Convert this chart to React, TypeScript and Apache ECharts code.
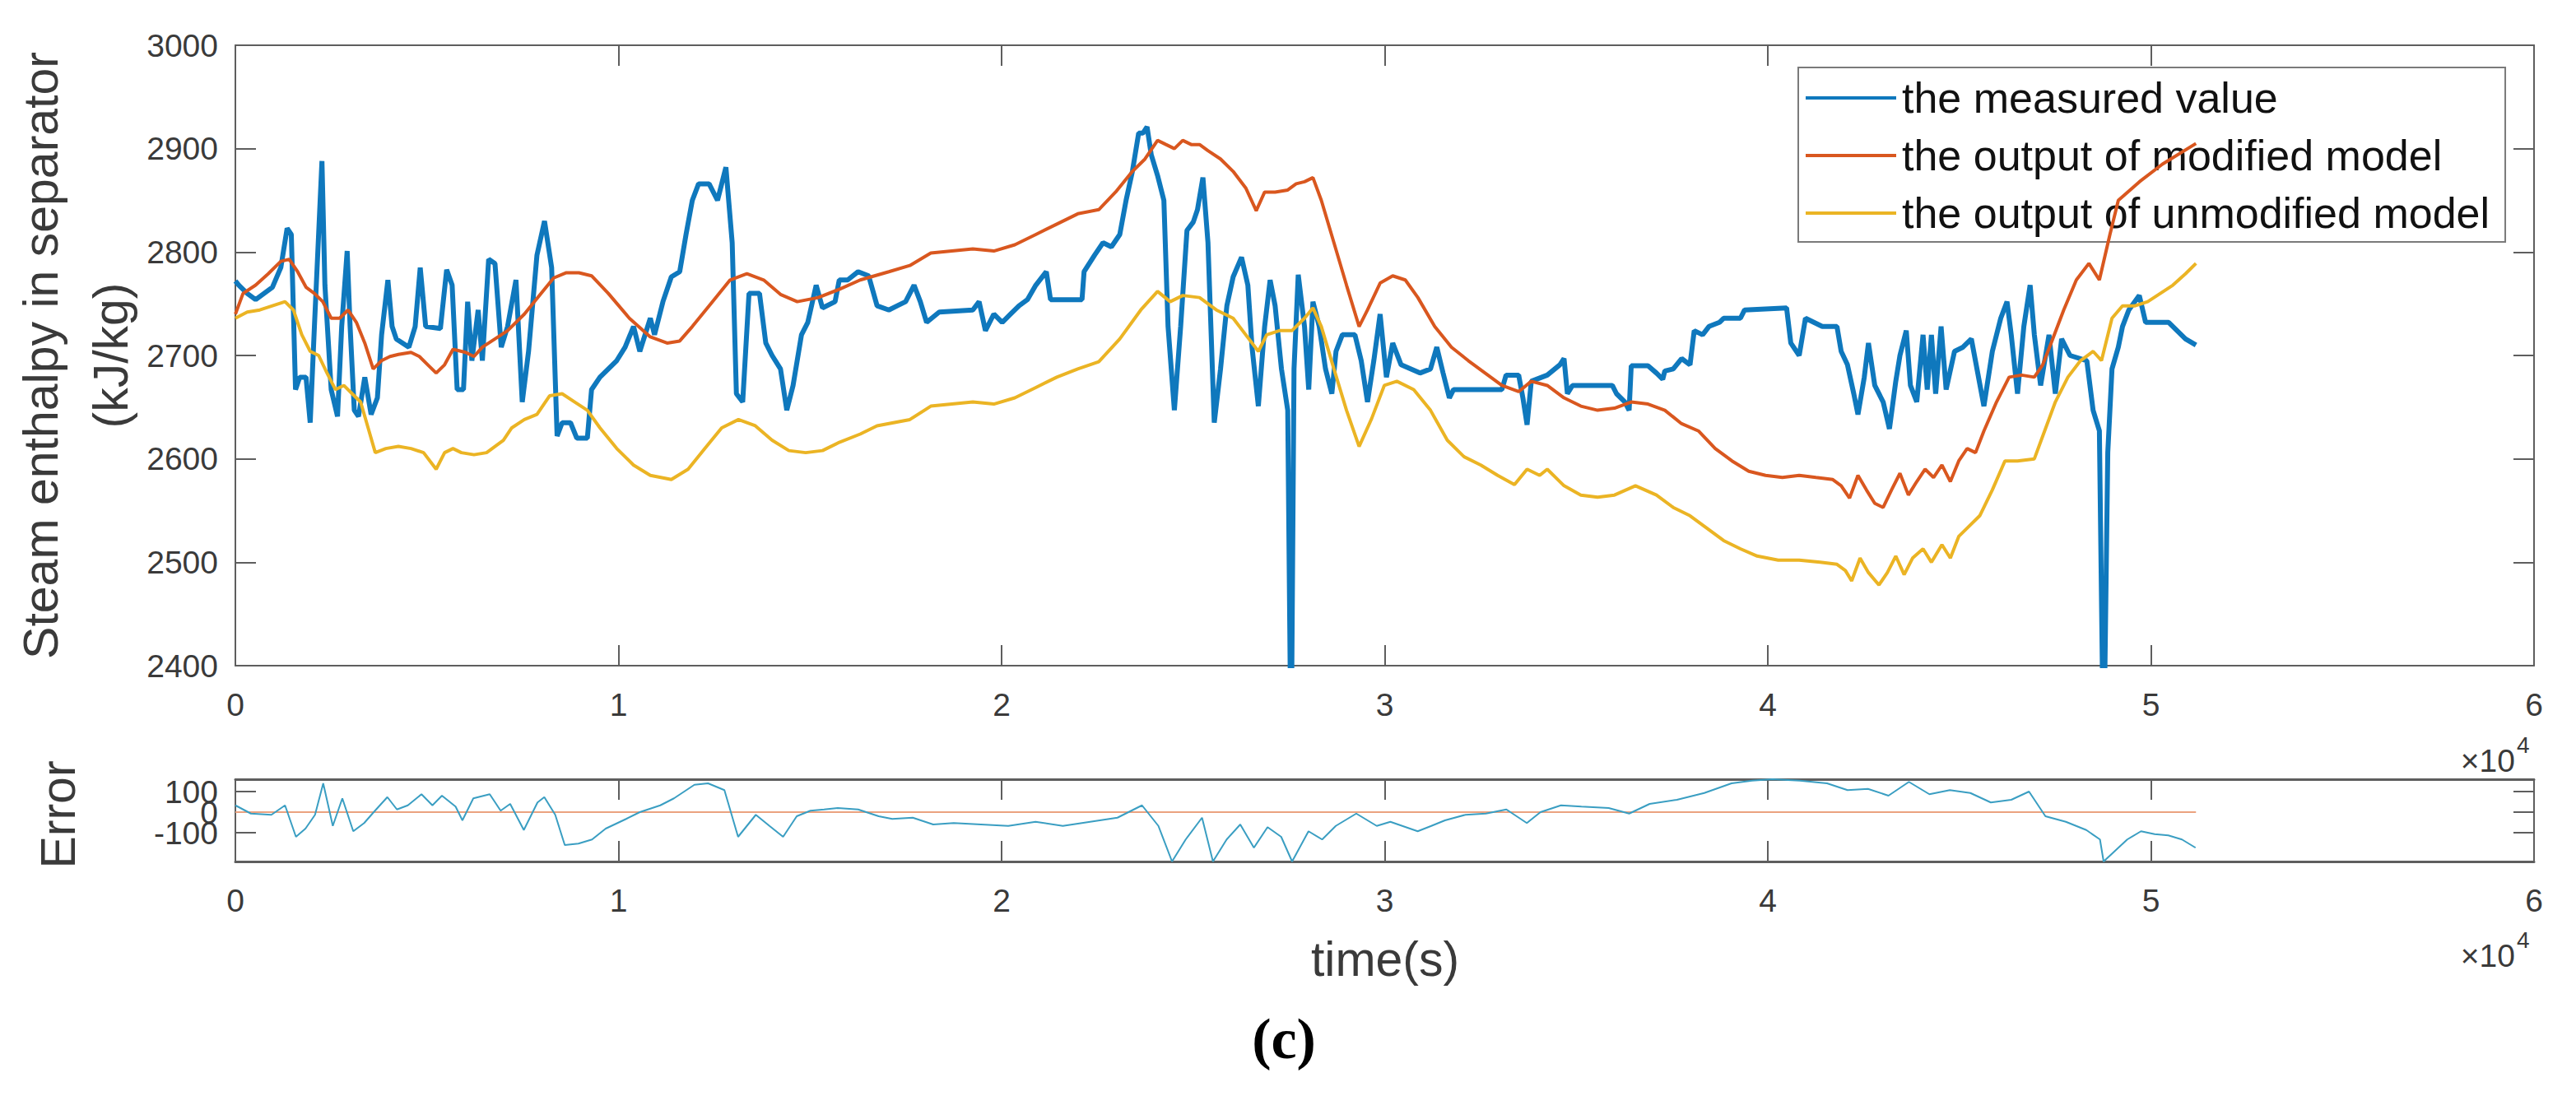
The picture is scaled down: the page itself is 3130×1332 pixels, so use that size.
import React, { useEffect, useRef } from "react";
import * as echarts from "echarts";

// ---------- data (time in s, enthalpy in kJ/kg) ----------
const xTickValues = [0, 10000, 20000, 30000, 40000, 50000, 60000];
const errTickValues = [-100, 0, 100];
const errOuterLabels = [-100, 100];
const errMiddleLabel = [0];

const measuredT = [
  0, 90, 309, 529, 748, 967, 1186, 1351, 1460, 1570, 1679, 1844, 1953, 2063, 2260, 2337, 2501, 2666, 2775, 2918,
  2995, 3104, 3214, 3378, 3543, 3707, 3817, 3981, 4091, 4200, 4365, 4529, 4693, 4825, 4967, 5351, 5515, 5658, 5789, 5954,
  6063, 6173, 6337, 6447, 6611, 6776, 6940, 7105, 7324, 7488, 7653, 7872, 8069, 8255, 8398, 8529, 8748, 8913, 9187, 9297,
  9516, 9735, 9954, 10173, 10393, 10557, 10831, 10941, 11160, 11379, 11598, 11763, 11927, 12091, 12365, 12585, 12804, 12968, 13078, 13242,
  13407, 13681, 13845, 14009, 14229, 14393, 14557, 14777, 14941, 15160, 15325, 15653, 15763, 15982, 16256, 16530, 16750,
  17057, 17276, 17495, 17715, 17879, 18043, 18372, 19249, 19413, 19578, 19797, 20016, 20235, 20455, 20674, 20893, 21167, 21277, 22099,
  22153, 22427, 22647, 22866, 23085, 23249, 23414, 23578, 23688, 23797, 23907, 24071, 24236, 24345, 24510, 24674, 24839, 25003, 25113, 25255,
  25387, 25551, 25715, 25880, 26044, 26263, 26428, 26537, 26702, 26866, 27009, 27140, 27305, 27469, 27557, 27633, 27743, 27907, 28017, 28127,
  28291, 28455, 28620, 28729, 28894, 29223, 29387, 29551, 29716, 29880, 30045, 30209, 30428, 30921, 31195, 31360, 31524, 31688, 31798, 33059,
  33168, 33497, 33607, 33716, 33826, 34243,
  34572, 34681, 34769, 34901, 35942, 36051, 36271, 36380, 36435, 36873, 37093, 37257, 37312, 37531, 37750, 37969, 38079, 38298, 38463, 38737,
  38846, 39285, 39394, 40490, 40600, 40819, 40983, 41422, 41805, 41915, 42079, 42244, 42353, 42518, 42627, 42792, 43011, 43175, 43340, 43449,
  43614, 43723, 43888, 44052, 44162, 44271, 44381, 44523, 44655, 44874, 45093, 45313, 45641, 45861, 46080, 46244, 46354, 46518, 46683, 46847,
  46957, 47121, 47340, 47505, 47669, 47888, 48327, 48491, 48655, 48765, 48874, 48984, 49149, 49258, 49423, 49697, 49861, 50464, 50683, 50902,
  51176,
];
const measuredV = [
  2772, 2768, 2760, 2754, 2760, 2766, 2785, 2823, 2817, 2667, 2679, 2679, 2635, 2728, 2888, 2768, 2667, 2641, 2728, 2801,
  2728, 2647, 2641, 2679, 2643, 2659, 2720, 2773, 2728, 2716, 2712, 2708, 2728, 2785, 2728, 2726, 2783, 2768, 2667, 2667,
  2752, 2695, 2744, 2695, 2793, 2789, 2708, 2728, 2773, 2655, 2704, 2797, 2830, 2785, 2622, 2635, 2635, 2620, 2620, 2667,
  2679, 2687, 2695, 2708, 2728, 2704, 2736, 2720, 2752, 2776, 2781, 2817, 2850, 2866, 2866, 2850, 2882, 2809, 2663, 2655,
  2760, 2760, 2712, 2700, 2687, 2647, 2671, 2720, 2732, 2768, 2746, 2752, 2773, 2773, 2781, 2777, 2748,
  2744, 2748, 2752, 2768, 2752, 2732, 2742, 2744, 2752, 2724, 2740, 2732, 2740, 2748, 2754, 2768, 2781, 2754, 2754,
  2781, 2797, 2809, 2805, 2817, 2850, 2878, 2915, 2915, 2921, 2894, 2874, 2850, 2728, 2647, 2728, 2821, 2829, 2841, 2872,
  2809, 2635, 2687, 2748, 2776, 2795, 2768, 2708, 2651, 2728, 2773, 2748, 2687, 2647, 2300, 2687, 2778, 2728, 2667, 2752,
  2728, 2687, 2663, 2704, 2720, 2720, 2695, 2655, 2695, 2740, 2679, 2712, 2691, 2683, 2687, 2708, 2683, 2659, 2667, 2667,
  2681, 2681, 2659, 2633, 2675, 2681,
  2691, 2697, 2663, 2671, 2671, 2663, 2655, 2647, 2690, 2690, 2683, 2677, 2685, 2687, 2697, 2691, 2724, 2720, 2728, 2732,
  2736, 2736, 2744, 2746, 2712, 2700, 2736, 2728, 2728, 2704, 2691, 2663, 2643, 2679, 2712, 2671, 2655, 2629, 2675, 2700,
  2724, 2671, 2655, 2720, 2667, 2720, 2663, 2728, 2667, 2704, 2708, 2716, 2651, 2704, 2736, 2752, 2720, 2663, 2728, 2768,
  2720, 2671, 2720, 2663, 2716, 2700, 2695, 2647, 2627, 2300, 2606, 2687, 2708, 2728, 2744, 2758, 2732, 2732, 2724, 2716,
  2710,
];

const modifiedT = [
  0, 200, 529, 857, 1186, 1405, 1625, 1844, 2063, 2282, 2501, 2721, 2940, 3159, 3378, 3597, 3817, 4036, 4255, 4584,
  4803, 5022, 5241, 5461, 5680, 6009, 6228, 6447, 6776, 7105, 7543, 7981, 8310, 8639, 8968, 9297, 9735, 10283, 10831, 11269,
  11598, 11927, 12365, 12913, 13352, 13790, 14229, 14667, 15215, 15763, 16311,
  17057, 17605, 18153, 18701, 19249, 19797, 20345, 20893, 21441, 21989, 22537, 22975, 23414, 23743, 24071, 24290, 24510, 24729, 24948, 25167,
  25387, 25715, 26044, 26373, 26647, 26866, 27140, 27469, 27688, 27907, 28127, 28346, 28675, 29003, 29332, 29551, 29880, 30209, 30538, 30866,
  31305, 31743, 32181, 32620, 33059, 33497, 33826,
  34243, 34681, 35120, 35558, 35997, 36435, 36873, 37312, 37750, 38189, 38627, 39065, 39504, 39942, 40381, 40819, 41257, 41696, 41915, 42134,
  42353, 42573, 42792, 43011, 43230, 43449, 43669, 43888, 44107, 44326, 44545, 44765, 44984, 45203, 45422, 45641, 45970, 46299, 46627, 46956,
  47176, 47395, 47724, 48053, 48381, 48655, 48930, 49149, 49700, 50300, 51176,
];
const modifiedV = [
  2740, 2760, 2768, 2779, 2791, 2793, 2781, 2766, 2760, 2752, 2736, 2736, 2744, 2732, 2712, 2687, 2695, 2699, 2701, 2703,
  2699, 2691, 2683, 2691, 2706, 2703, 2699, 2708, 2716, 2724, 2740, 2760, 2775, 2780, 2780, 2777, 2760, 2736, 2718, 2712,
  2714, 2728, 2748, 2773, 2779, 2773, 2759, 2752, 2756, 2764, 2773,
  2781, 2787, 2799, 2801, 2803, 2801, 2807, 2817, 2827, 2837, 2841, 2858, 2878, 2890, 2908, 2904, 2900, 2908, 2904, 2904,
  2898, 2890, 2878, 2862, 2840, 2858, 2858, 2860, 2866, 2868, 2872, 2850, 2809, 2768, 2728, 2744, 2770, 2777, 2773, 2756,
  2728, 2708, 2695, 2683, 2671, 2665, 2675,
  2671, 2659, 2651, 2647, 2649, 2655, 2653, 2647, 2634, 2627, 2610, 2598, 2588, 2584, 2582, 2584, 2582, 2580, 2574, 2562,
  2584, 2570, 2557, 2553, 2570, 2586, 2565, 2578, 2590, 2582, 2594, 2578, 2598, 2610, 2606, 2627, 2655, 2679, 2681, 2679,
  2691, 2712, 2744, 2773, 2789, 2773, 2817, 2850, 2868, 2885, 2905,
];

const unmodifiedT = [
  0, 309, 638, 967, 1296, 1515, 1734, 1953, 2173, 2392, 2611, 2830, 3049, 3269, 3488, 3652, 3927, 4255, 4584, 4913,
  5241, 5461, 5680, 5899, 6228, 6557, 6776, 6995, 7214, 7543, 7872, 8201, 8529, 8858, 9187, 9516, 9954, 10393, 10831, 11379,
  11817, 12255, 12694, 13132, 13571, 14009, 14447, 14886, 15325, 15763, 16311, 16749,
  17605, 18153, 18701, 19249, 19797, 20345, 20893, 21441, 21989, 22537, 23085, 23633, 24071, 24400, 24729, 25167, 25606, 26044, 26373,
  26702, 26921, 27250, 27578, 27907, 28127, 28346, 28675, 29003, 29332, 29660, 29989, 30318, 30757, 31195, 31634, 32072, 32510, 32949, 33387,
  33716, 34045,
  34243, 34681, 35120, 35558, 35997, 36545, 37093, 37531, 37969, 38408, 38846, 39285, 39723, 40271, 40819, 41367, 41805, 42025, 42189, 42408,
  42627, 42901, 43121, 43340, 43559, 43778, 44052, 44271, 44545, 44765, 44984, 45203, 45532, 45861, 46189, 46518, 46957, 47176, 47505, 47833,
  48162, 48491, 48710, 48984, 49258, 49587, 49916, 50245, 50573, 50902, 51176,
];
const unmodifiedV = [
  2736, 2742, 2744, 2748, 2752, 2744, 2720, 2704, 2700, 2683, 2667, 2671, 2663, 2655, 2627, 2606, 2610, 2612, 2610, 2606,
  2590, 2606, 2610, 2606, 2604, 2606, 2612, 2618, 2630, 2638, 2643, 2661, 2663, 2655, 2647, 2630, 2610, 2594, 2584, 2580,
  2590, 2610, 2630, 2638, 2632, 2618, 2608, 2606, 2608, 2616, 2624, 2632,
  2638, 2651, 2653, 2655, 2653, 2659, 2669, 2679, 2687, 2694, 2716, 2744, 2762, 2752, 2758, 2756, 2744, 2736, 2720,
  2704, 2720, 2724, 2724, 2736, 2746, 2728, 2687, 2647, 2612, 2639, 2671, 2675, 2667, 2647, 2618, 2602, 2594, 2584, 2575,
  2590, 2584,
  2590, 2574, 2565, 2563, 2565, 2574, 2565, 2553, 2545, 2533, 2521, 2513, 2506, 2502, 2502, 2500, 2498, 2492, 2482, 2504,
  2490, 2478, 2490, 2506, 2488, 2504, 2513, 2500, 2517, 2504, 2525, 2533, 2545, 2570, 2598, 2598, 2600, 2622, 2655, 2679,
  2695, 2704, 2695, 2736, 2748, 2748, 2752, 2760, 2768, 2779, 2789,
];

const errorT = [
  0, 405, 940, 1296, 1581, 1830, 2079, 2293, 2543, 2792, 3077, 3362, 3611, 3967, 4217, 4502, 4858, 5143, 5392, 5748,
  5926, 6211, 6639, 6924, 7173, 7529, 7886, 8064, 8349, 8598, 8954, 9310, 9667, 10201, 10557, 11091, 11448, 11982, 12338, 12765,
  13122, 13585, 13941, 14297, 14653, 15010, 15366, 15722, 16256, 16791, 17147, 17681, 18215, 18750, 19462, 20174, 20887, 21599, 22312, 23024,
  23665, 24093, 24449, 24805, 25232, 25517, 25874, 26230, 26586, 26942, 27298, 27583, 28011, 28367, 28723, 29258, 29792, 30148, 30861, 31217,
  31573, 32107, 32641, 33176, 33710, 34066, 34601, 35135, 35847, 36381, 36916, 37628, 38341, 39053, 39587, 40122, 40834, 41546, 42081, 42615,
  43149, 43683, 44218, 44752, 45287, 45821, 46355, 46818, 47246, 47780, 48314, 48670, 48765, 49382, 49741, 50097, 50453, 50810, 51165,
];
const errorV = [
  33, -7, -13, 33, -120, -80, -13, 140, -67, 67, -93, -53, 0, 73, 13, 33, 87, 33, 80, 27,
  -40, 67, 87, 7, 40, -87, 47, 73, -13, -160, -153, -133, -80, -33, 0, 33, 67, 133, 140, 107,
  -120, -13, -67, -120, -20, 7, 13, 20, 13, -20, -33, -27, -60, -53, -60, -67, -47, -67, -47, -27,
  33, -67, -240, -133, -27, -240, -133, -60, -173, -73, -120, -240, -93, -133, -67, -7, -67, -47, -93, -67,
  -40, -13, -7, 13, -53, 0, 33, 27, 20, -7, 40, 60, 93, 140, 153, 160, 153, 140, 107, 113,
  80, 147, 87, 107, 93, 47, 60, 100, -20, -47, -87, -133, -240, -133, -93, -107, -113, -133, -173,
];

const zeroLineT = [0, 51176];
const zeroLineV = [0, 0];

const legendNames = [
  "the measured value",
  "the output of modified model",
  "the output of unmodified model",
];

// ---------- styling ----------
const FONT = "'Liberation Sans', Arial, Helvetica, sans-serif";
const AXIS_COLOR = "#5e5e5e";
const LABEL_COLOR = "#3a3a3a";
const C_BLUE = "#0f78bd";
const C_ORANGE = "#d9571f";
const C_YELLOW = "#ebb424";
const C_ERR = "#3a9ec2";
const C_ZERO = "#eba27f";

const zip = (t: number[], v: number[]) => t.map((x, i) => [x, v[i]]);

function App() {
  const ref = useRef<HTMLDivElement>(null);

  useEffect(() => {
    if (!ref.current) return;
    const chart = echarts.init(ref.current, null, { renderer: "svg" });

    const G0 = { left: 286, top: 55, width: 2793, height: 754 };
    const G1 = { left: 286, top: 947, width: 2793, height: 100 };

    const axisLine = (w = 2) => ({ show: true, onZero: false, lineStyle: { color: AXIS_COLOR, width: w } });
    const tick = (len: number) => ({ show: true, inside: true, length: len, lineStyle: { color: AXIS_COLOR, width: 2 } });
    const xLabel = {
      show: true,
      fontSize: 39,
      fontFamily: FONT,
      color: LABEL_COLOR,
      margin: 28,
      hideOverlap: false,
      formatter: (v: number) => String(v / 10000),
    };
    const yLabel = {
      show: true,
      fontSize: 39,
      fontFamily: FONT,
      color: LABEL_COLOR,
      margin: 21,
      hideOverlap: false,
      showMinLabel: true,
      showMaxLabel: true,
      formatter: (v: number) => String(v),
    };

    const xBase = { type: "value", min: 0, max: 60000, interval: 10000, splitLine: { show: false } };

    const textEl = (x: number, y: number, text: string, size: number, extra: any = {}, rotation = 0, fontExtra: any = {}) => ({
      type: "text",
      x,
      y,
      rotation,
      z: 10,
      style: {
        text,
        fontSize: size,
        fontFamily: FONT,
        fill: extra.fill || LABEL_COLOR,
        textAlign: extra.align || "center",
        textVerticalAlign: extra.valign || "middle",
        align: extra.align || "center",
        verticalAlign: extra.valign || "middle",
        ...fontExtra,
      },
    });

    const option: any = {
      animation: false,
      backgroundColor: "#ffffff",
      grid: [
        { ...G0, containLabel: false },
        { ...G1, containLabel: false },
      ],
      xAxis: [
        { ...xBase, gridIndex: 0, position: "bottom", axisLine: axisLine(2), axisTick: tick(25), axisLabel: xLabel },
        { ...xBase, gridIndex: 0, position: "top", axisLine: axisLine(2), axisTick: tick(25), axisLabel: { show: false } },
        { ...xBase, gridIndex: 1, position: "bottom", axisLine: axisLine(3), axisTick: tick(25), axisLabel: xLabel },
        { ...xBase, gridIndex: 1, position: "top", axisLine: axisLine(3), axisTick: tick(25), axisLabel: { show: false } },
      ],
      yAxis: [
        {
          type: "value", gridIndex: 0, position: "left", min: 2400, max: 3000, interval: 100,
          axisLine: axisLine(2), axisTick: tick(25), splitLine: { show: false }, axisLabel: yLabel,
        },
        {
          type: "value", gridIndex: 0, position: "right", min: 2400, max: 3000, interval: 100,
          axisLine: axisLine(2), axisTick: tick(25), splitLine: { show: false }, axisLabel: { show: false },
        },
        {
          type: "value", gridIndex: 1, position: "left", min: -240, max: 160,
          axisLine: axisLine(2), splitLine: { show: false },
          axisTick: { ...tick(25), customValues: errTickValues },
          axisLabel: { ...yLabel, customValues: errOuterLabels },
        },
        {
          type: "value", gridIndex: 1, position: "right", min: -240, max: 160,
          axisLine: axisLine(2), splitLine: { show: false },
          axisTick: { ...tick(25), customValues: errTickValues },
          axisLabel: { show: false },
        },
        {
          type: "value", gridIndex: 1, position: "left", offset: 0, min: -240, max: 160,
          axisLine: { show: false, onZero: false }, splitLine: { show: false },
          axisTick: { show: false },
          axisLabel: { ...yLabel, customValues: errMiddleLabel },
        },
      ],
      legend: {
        data: legendNames,
        left: 2185,
        top: 82,
        orient: "vertical",
        icon: "rect",
        itemWidth: 110,
        itemHeight: 4,
        itemGap: 18,
        padding: [11, 19, 9, 9],
        backgroundColor: "#ffffff",
        borderColor: "#7a7a7a",
        borderWidth: 2,
        selectedMode: false,
        textStyle: { fontSize: 52, fontFamily: FONT, color: "#111111", padding: [0, 0, 0, 2] },
      },
      series: [
        {
          name: legendNames[0], type: "line", xAxisIndex: 0, yAxisIndex: 0, symbol: "none", clip: true,
          data: zip(measuredT, measuredV), lineStyle: { color: C_BLUE, width: 6 }, itemStyle: { color: C_BLUE }, z: 3,
        },
        {
          name: legendNames[1], type: "line", xAxisIndex: 0, yAxisIndex: 0, symbol: "none", clip: true,
          data: zip(modifiedT, modifiedV), lineStyle: { color: C_ORANGE, width: 4 }, itemStyle: { color: C_ORANGE }, z: 4,
        },
        {
          name: legendNames[2], type: "line", xAxisIndex: 0, yAxisIndex: 0, symbol: "none", clip: true,
          data: zip(unmodifiedT, unmodifiedV), lineStyle: { color: C_YELLOW, width: 4 }, itemStyle: { color: C_YELLOW }, z: 5,
        },
        {
          name: "zero", type: "line", xAxisIndex: 2, yAxisIndex: 2, symbol: "none", clip: true,
          data: zip(zeroLineT, zeroLineV), lineStyle: { color: C_ZERO, width: 2 }, z: 2,
        },
        {
          name: "error", type: "line", xAxisIndex: 2, yAxisIndex: 2, symbol: "none", clip: true,
          data: zip(errorT, errorV), lineStyle: { color: C_ERR, width: 2 }, z: 3,
        },
      ],
      graphic: [
        textEl(50, 432, "Steam enthalpy in separator", 59, {}, Math.PI / 2),
        textEl(135, 432, "(kJ/kg)", 59, {}, Math.PI / 2),
        textEl(71, 990, "Error", 59, {}, Math.PI / 2),
        textEl(1683, 1166, "time(s)", 59),
        textEl(3056, 924, "\u00d710", 39, { align: "right" }),
        textEl(3058, 905, "4", 28, { align: "left" }),
        textEl(3056, 1161, "\u00d710", 39, { align: "right" }),
        textEl(3058, 1142, "4", 28, { align: "left" }),
        textEl(1560, 1262, "(c)", 70, { fill: "#000000" }, 0, { fontFamily: "'Liberation Serif', 'DejaVu Serif', serif", fontWeight: "bold" }),
      ],
    };

    chart.setOption(option);
    return () => chart.dispose();
  }, []);

  return (
    <div
      ref={ref}
      style={{ position: "absolute", left: 0, top: 0, width: 3130, height: 1332, background: "#ffffff" }}
    />
  );
}

export default App;
